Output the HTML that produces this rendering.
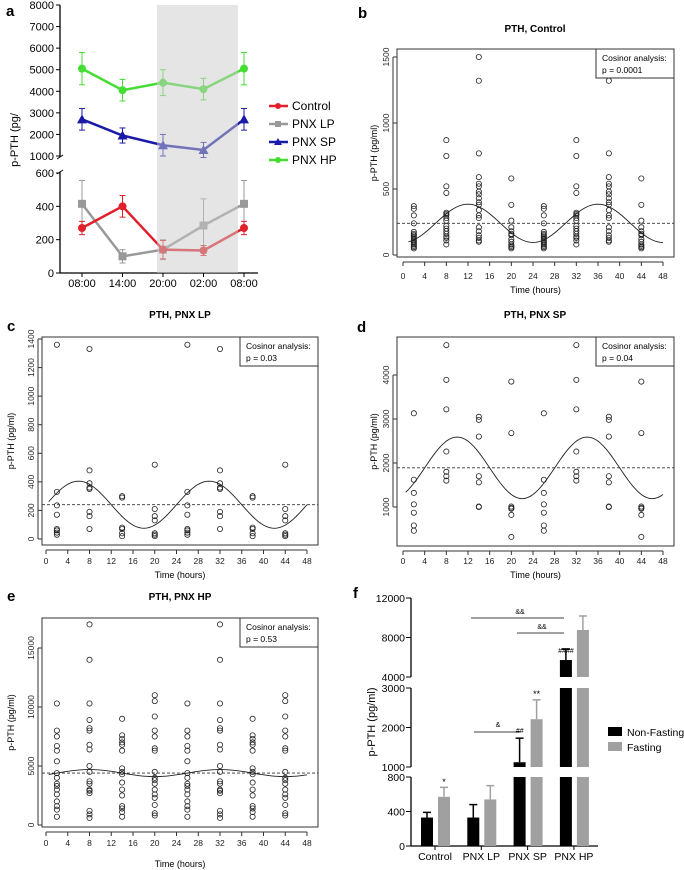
<!DOCTYPE html>
<html><head><meta charset="utf-8">
<style>
html,body{margin:0;padding:0;background:#fff;}
svg{display:block;font-family:"Liberation Sans",Arial,sans-serif;}
</style></head>
<body>
<svg id="fig" width="684" height="870" viewBox="0 0 684 870" xmlns="http://www.w3.org/2000/svg"></svg>
<script>
// ---------- Panel a data ----------
const aTimes = ["08:00","14:00","20:00","02:00","08:00"];
const aControl = [270,400,140,135,270];
const aControlErr = [40,65,55,30,40];
const aLP = [415,100,140,285,415];
const aLPErr = [140,40,60,160,140];
const aSP = [2700,1950,1500,1280,2700];
const aSPErr = [500,350,500,350,500];
const aHP = [5050,4050,4400,4100,5050];
const aHPErr = [750,500,600,500,750];
const aTicksUpper = [1000,2000,3000,4000,5000,6000,7000,8000];
const aTicksLower = [0,200,400,600];

// ---------- Cosinor panels data ----------
const cosTimes = [2,8,14,20,26,32,38,44];
const xTicks = [0,4,8,12,16,20,24,28,32,36,40,44,48];
const bT2=[370,350,300,240,175,160,150,140,130,120,110,100,90,80,70,60,50];
const bT8=[870,750,520,470,320,310,300,280,260,220,200,180,160,140,130,110,80];
const bT14=[1500,1320,770,590,540,520,480,460,430,400,380,340,300,280,210,180,150,130,110,100];
const bT20=[580,380,260,210,180,160,150,120,100,80,70,60,50];
const cT2=[1360,330,235,170,70,60,45,30];
const cT8=[1330,480,390,360,350,190,160,70];
const cT14=[300,290,80,70,40,20];
const cT20=[520,210,160,130,40,30,20];
const dT2=[3130,1620,1320,1060,870,580,460];
const dT8=[4680,3890,3220,2260,1800,1700,1600];
const dT14=[3050,2980,2600,1700,1560,1010,1000];
const dT20=[3850,2680,1010,980,960,820,320];
const eT2=[10300,8000,7500,6700,6300,5400,4400,4000,3500,3300,3000,2600,2000,1600,1300,700];
const eT8=[17000,14000,10300,8900,8200,8000,6800,6400,5000,4500,3700,3500,3000,2900,2700,1200,900,600];
const eT14=[9000,7600,7300,7000,6800,6300,4800,4500,4300,3600,3000,2500,1600,1400,1100,700];
const eT20=[11000,10500,9200,8000,7500,6500,6300,4500,4000,3800,3500,3000,2600,2300,1700,1000,800];
const bMesor=240, bAmp=145, bPeak=12, bP="p = 0.0001";
const cMesor=240, cAmp=165, cPeak=6, cP="p = 0.03";
const dMesor=1890, dAmp=700, dPeak=10, dP="p = 0.04";
const eMesor=4400, eAmp=300, ePeak=8, eP="p = 0.53";

// ---------- Panel f data ----------
const fCats = ["Control","PNX LP","PNX SP","PNX HP"];
const fNonFasting = [330,330,1120,5720];
const fNonFastingErr = [390,480,1730,6840];
const fFasting = [570,540,2210,8760];
const fFastingErr = [680,700,2700,10180];

const NS="http://www.w3.org/2000/svg";
const svg=document.getElementById('fig');
function el(tag,attrs,parent,text){const e=document.createElementNS(NS,tag);for(const k in attrs)e.setAttribute(k,attrs[k]);if(text!==undefined)e.textContent=text;(parent||svg).appendChild(e);return e;}
function grp(name){const g=document.createElementNS(NS,'g');


svg.appendChild(g);return g;}

// ================= Panel a =================
(function(){
const g=grp('panel-a');
const ax=60;
const xs=i=>82+i*40.5;
const yU=v=>156-(v-1000)/7000*151;
const yL=v=>273-v/600*100;
const y=v=> v>=1000 ? yU(v) : yL(v);
el('text',{x:6,y:16,'font-size':15,'font-weight':'bold'},g,'a');
el('line',{x1:ax,y1:5,x2:ax,y2:157,stroke:'#000','stroke-width':1.3},g);
el('line',{x1:ax,y1:172,x2:ax,y2:273,stroke:'#000','stroke-width':1.3},g);
el('line',{x1:ax,y1:273,x2:258,y2:273,stroke:'#000','stroke-width':1.3},g);
el('line',{x1:ax-3,y1:159,x2:ax+3,y2:155,stroke:'#000'},g);
el('line',{x1:ax-3,y1:174,x2:ax+3,y2:170,stroke:'#000'},g);
aTicksUpper.forEach(t=>{el('line',{x1:ax-4,y1:y(t),x2:ax,y2:y(t),stroke:'#000'},g);el('text',{x:ax-6,y:y(t)+4,'font-size':11,'text-anchor':'end'},g,t);});
aTicksLower.forEach(t=>{el('line',{x1:ax-4,y1:y(t),x2:ax,y2:y(t),stroke:'#000'},g);el('text',{x:ax-6,y:y(t)+4,'font-size':11,'text-anchor':'end'},g,t);});
aTimes.forEach((t,i)=>{el('line',{x1:xs(i),y1:273,x2:xs(i),y2:277,stroke:'#000'},g);el('text',{x:xs(i),y:287,'font-size':11,'text-anchor':'middle'},g,t);});
el('text',{x:0,y:0,'font-size':11,'text-anchor':'middle',transform:'translate(18,140) rotate(-90)'},g,'p-PTH (pg/');
const series=[[aLP,aLPErr,'#999999','sq','series-pnx-lp',yL],[aControl,aControlErr,'#e0202a','ci','series-control',yL],[aSP,aSPErr,'#1a1aa8','tri','series-pnx-sp',yU],[aHP,aHPErr,'#44dd33','ci','series-pnx-hp',yU]];
series.forEach(([vals,err,col,shape,name,ys])=>{
  const sg=el('g',{},g);
  
  
  vals.forEach((v,i)=>{el('line',{x1:xs(i),y1:ys(v-err[i]),x2:xs(i),y2:ys(v+err[i]),stroke:col,'stroke-width':1},sg);
    el('line',{x1:xs(i)-3,y1:ys(v+err[i]),x2:xs(i)+3,y2:ys(v+err[i]),stroke:col},sg);
    el('line',{x1:xs(i)-3,y1:ys(v-err[i]),x2:xs(i)+3,y2:ys(v-err[i]),stroke:col},sg);});
  el('polyline',{points:vals.map((v,i)=>xs(i)+','+ys(v)).join(' '),fill:'none',stroke:col,'stroke-width':2.5},sg);
  vals.forEach((v,i)=>{const cx=xs(i),cy=ys(v);
    if(shape==='sq')el('rect',{x:cx-4,y:cy-4,width:8,height:8,fill:col},sg);
    else if(shape==='tri')el('polygon',{points:`${cx},${cy-5} ${cx-5},${cy+4} ${cx+5},${cy+4}`,fill:col},sg);
    else el('circle',{cx,cy,r:4,fill:col},sg);});
});
el('rect',{x:157,y:5,width:81,height:268,fill:'#cccccc','fill-opacity':0.5},g);
const leg=[['Control','#e0202a','ci'],['PNX LP','#999999','sq'],['PNX SP','#1a1aa8','tri'],['PNX HP','#44dd33','ci']];
leg.forEach(([t,c,s],i)=>{const yy=106+i*18;
  const lg=el('g',{},g);
  
  
  el('line',{x1:269,y1:yy,x2:288,y2:yy,stroke:c,'stroke-width':2.5},lg);
  if(s==='sq')el('rect',{x:275,y:yy-3,width:6,height:6,fill:c},lg);
  else if(s==='tri')el('polygon',{points:`278,${yy-4} 274,${yy+3} 282,${yy+3}`,fill:c},lg);
  else el('circle',{cx:278,cy:yy,r:3,fill:c},lg);
  el('text',{x:292,y:yy+4,'font-size':12},lg,t);});
})();

// ================= Cosinor panels =================
function cosPanel(o){
  const g=grp(o.name);
  const sx=t=>o.x0+(t/48)*(o.x48-o.x0);
  const sy=v=>o.yZero-(v/o.yUnit)*o.yPx;
  el('text',{x:o.lx,y:o.ly,'font-size':15,'font-weight':'bold'},g,o.letter);
  el('text',{x:o.tx,y:o.ty,'font-size':10,'font-weight':'bold','text-anchor':'middle'},g,o.title);
  el('rect',{x:o.bx1,y:o.by1,width:o.bx2-o.bx1,height:o.by2-o.by1,fill:'none',stroke:'#333','stroke-width':1},g);
  el('line',{x1:sx(0),y1:o.by2+5,x2:sx(48),y2:o.by2+5,stroke:'#333'},g);
  xTicks.forEach(t=>{el('line',{x1:sx(t),y1:o.by2+5,x2:sx(t),y2:o.by2+9,stroke:'#333'},g);el('text',{x:sx(t),y:o.xly,'font-size':8.5,'text-anchor':'middle','fill':'#222'},g,t);});
  o.yTicks.forEach(t=>{const yy=sy(t);el('line',{x1:o.bx1-4,y1:yy,x2:o.bx1,y2:yy,stroke:'#333'},g);el('text',{x:0,y:0,'font-size':8.5,'text-anchor':'middle',fill:'#222',transform:`translate(${o.bx1-8},${yy}) rotate(-90)`},g,t);});
  el('line',{x1:o.bx1-4,y1:sy(o.yTicks[0]),x2:o.bx1-4,y2:sy(o.yTicks[o.yTicks.length-1]),stroke:'#333'},g);
  el('text',{x:(o.bx1+o.bx2)/2,y:o.xlab,'font-size':9,'text-anchor':'middle'},g,'Time (hours)');
  el('text',{x:0,y:0,'font-size':9,'text-anchor':'middle',transform:`translate(${o.ylx},${(o.by1+o.by2)/2}) rotate(-90)`},g,'p-PTH (pg/ml)');
  const groups=[o.d[0],o.d[1],o.d[2],o.d[3],o.d[0],o.d[1],o.d[2],o.d[3]];
  cosTimes.forEach((t,i)=>groups[i].forEach(v=>{const c=el('circle',{cx:sx(t),cy:sy(v),r:2.6,fill:'none',stroke:'#222','stroke-width':0.8},g);
    
    }));
  el('line',{x1:o.bx1,y1:sy(o.mesor),x2:o.bx2,y2:sy(o.mesor),stroke:'#333','stroke-dasharray':'3,2','stroke-width':0.9},g);
  const pts=[];for(let t=o.cs;t<=48;t+=0.5)pts.push(sx(t)+','+sy(o.mesor+o.amp*Math.cos(2*Math.PI*(t-o.peak)/24)));
  el('polyline',{points:pts.join(' '),fill:'none',stroke:'#222','stroke-width':0.9},g);
  el('rect',{x:o.bx2-78,y:o.by1,width:78,height:29,fill:'#fff',stroke:'#333','stroke-width':1},g);
  el('text',{x:o.bx2-72,y:o.by1+12,'font-size':8.5},g,'Cosinor analysis:');
  el('text',{x:o.bx2-72,y:o.by1+24,'font-size':8.5},g,o.p);
}
cosPanel({name:'panel-b',letter:'b',lx:358,ly:18,title:'PTH, Control',tx:535,ty:32,bx1:397,bx2:674,by1:49,by2:257,x0:403,x48:663,yZero:255,yUnit:1500,yPx:198,yTicks:[0,500,1000,1500],xly:279,xlab:293,ylx:377,d:[bT2,bT8,bT14,bT20],mesor:bMesor,amp:bAmp,peak:bPeak,p:bP,cs:1});
cosPanel({name:'panel-c',letter:'c',lx:7,ly:331,title:'PTH, PNX LP',tx:180,ty:318,bx1:42,bx2:318,by1:337,by2:545,x0:46,x48:307,yZero:539,yUnit:1400,yPx:200,yTicks:[0,200,400,600,800,1000,1200,1400],xly:564,xlab:578,ylx:14,d:[cT2,cT8,cT14,cT20],mesor:cMesor,amp:cAmp,peak:cPeak,p:cP,cs:0.5});
cosPanel({name:'panel-d',letter:'d',lx:357,ly:332,title:'PTH, PNX SP',tx:535,ty:318,bx1:397,bx2:674,by1:337,by2:546,x0:403,x48:663,yZero:551,yUnit:1000,yPx:44,yTicks:[1000,2000,3000,4000],xly:564,xlab:578,ylx:377,d:[dT2,dT8,dT14,dT20],mesor:dMesor,amp:dAmp,peak:dPeak,p:dP,cs:0.5});
cosPanel({name:'panel-e',letter:'e',lx:7,ly:601,title:'PTH, PNX HP',tx:180,ty:600,bx1:42,bx2:318,by1:618,by2:827,x0:46,x48:307,yZero:825,yUnit:5000,yPx:59,yTicks:[0,5000,10000,15000],xly:846,xlab:867,ylx:14,d:[eT2,eT8,eT14,eT20],mesor:eMesor,amp:eAmp,peak:ePeak,p:eP,cs:0.5});

// ================= Panel f =================
(function(){
const g=grp('panel-f');
const ax=411;
const segs=[[0,800,846,777],[1000,3000,767,688],[4000,12000,677,598]];
const y=v=>{for(const [a,b,y0,y1] of segs){if(v<=b||b===12000){if(v<a)return null;return y0-(v-a)/(b-a)*(y0-y1);}}return null;};
const yAny=v=>{if(v<=800)return y(v);if(v<=3000)return y(Math.max(v,1000));return y(Math.max(v,4000));};
el('text',{x:353,y:598,'font-size':15,'font-weight':'bold'},g,'f');
segs.forEach(([a,b,y0,y1])=>el('line',{x1:ax,y1:y0,x2:ax,y2:y1,stroke:'#000','stroke-width':1.3},g));
el('line',{x1:ax,y1:846,x2:598,y2:846,stroke:'#000','stroke-width':1.3},g);
[[0,400,800],[1000,2000,3000],[4000,8000,12000]].forEach(arr=>arr.forEach(t=>{el('line',{x1:ax-5,y1:y(t),x2:ax,y2:y(t),stroke:'#000'},g);el('text',{x:ax-6,y:y(t)+4,'font-size':10.5,'text-anchor':'end'},g,t);}));
el('text',{x:0,y:0,'font-size':11,'text-anchor':'middle',transform:'translate(375,722) rotate(-90)'},g,'p-PTH (pg/ml)');
const cx=i=>435+i*46.3;
fCats.forEach((c,i)=>{el('line',{x1:cx(i),y1:846,x2:cx(i),y2:850,stroke:'#000'},g);el('text',{x:cx(i),y:860,'font-size':10.5,'text-anchor':'middle'},g,c);});
function bar(xl,v,e,col,name){
  segs.forEach(([a,b,y0,y1])=>{if(v>a){const top=y(Math.min(v,b));const r=el('rect',{x:xl,y:top,width:12,height:y0-top,fill:col},g);
    
    }});
  const cxx=xl+6, ytop=yAny(e), yb=yAny(v);
  el('line',{x1:cxx,y1:yb,x2:cxx,y2:ytop,stroke:col,'stroke-width':1.5},g);
  el('line',{x1:cxx-4,y1:ytop,x2:cxx+4,y2:ytop,stroke:col,'stroke-width':1.5},g);
}
fCats.forEach((c,i)=>{bar(cx(i)-14,fNonFasting[i],fNonFastingErr[i],'#000','bar-non-fasting');bar(cx(i)+3,fFasting[i],fFastingErr[i],'#a0a0a0','bar-fasting');});
el('line',{x1:471,y1:618,x2:564,y2:618,stroke:'#000','stroke-width':0.8},g);
el('text',{x:520,y:614,'font-size':7,'text-anchor':'middle'},g,'&&');
el('line',{x1:517,y1:633,x2:564,y2:633,stroke:'#000','stroke-width':0.8},g);
el('text',{x:542,y:629,'font-size':7,'text-anchor':'middle'},g,'&&');
el('line',{x1:474,y1:732,x2:520,y2:732,stroke:'#000','stroke-width':0.8},g);
el('text',{x:498,y:727,'font-size':7,'text-anchor':'middle'},g,'&');
el('text',{x:cx(0)+9,y:785,'font-size':9,'text-anchor':'middle'},g,'*');
el('text',{x:cx(2)+9,y:697,'font-size':9,'text-anchor':'middle'},g,'**');
el('text',{x:cx(2)-8,y:733,'font-size':7,'text-anchor':'middle','font-style':'italic'},g,'##');
el('text',{x:cx(3)-8,y:653,'font-size':7,'text-anchor':'middle','font-style':'italic'},g,'####');
const l1=el('g',{},g);


el('rect',{x:608,y:727,width:14,height:9,fill:'#000'},l1);
el('text',{x:627,y:736,'font-size':10.5},l1,'Non-Fasting');
const l2=el('g',{},g);


el('rect',{x:608,y:742,width:14,height:9,fill:'#a0a0a0'},l2);
el('text',{x:627,y:751,'font-size':10.5},l2,'Fasting');
})();
</script>
</body></html>
